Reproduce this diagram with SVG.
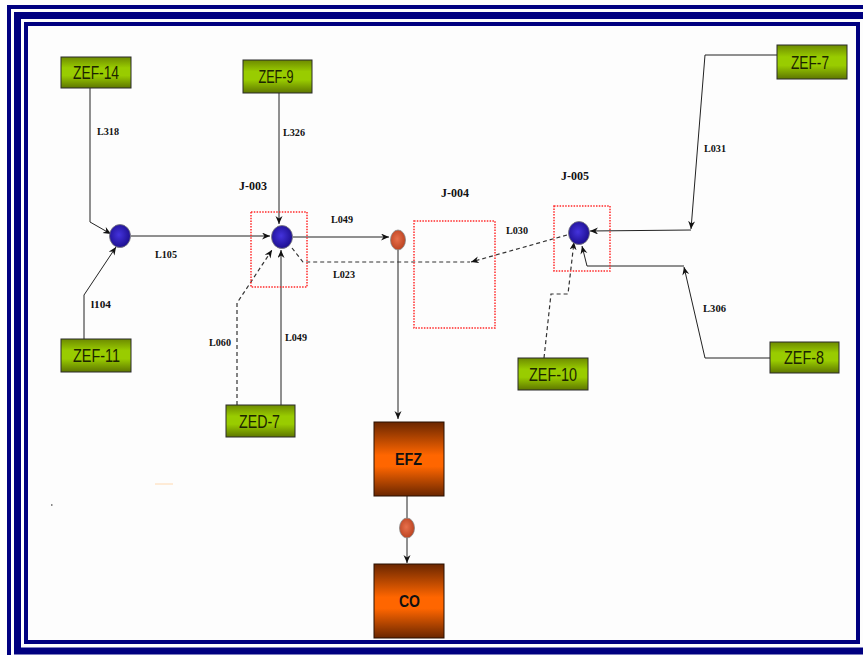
<svg xmlns="http://www.w3.org/2000/svg" width="863" height="655" viewBox="0 0 863 655">
<style>
.frame{fill:none;stroke:#000080}
.src rect{fill:url(#gGreen);stroke:#2b2b2b;stroke-width:1}
.src text{font-family:"Liberation Sans",Arial,sans-serif;font-size:18.5px;fill:#1c2400;text-anchor:middle}
.sink rect{fill:url(#gOrange);stroke:#2b1000;stroke-width:1}
.sink text{font-family:"Liberation Sans",Arial,sans-serif;font-size:16px;font-weight:bold;fill:#111;text-anchor:middle}
.jbox{fill:none;stroke:#ff2a2a;stroke-width:1.5;stroke-dasharray:1.5 1.3}
.lbl{font-family:"Liberation Serif","Times New Roman",serif;font-weight:bold;font-size:10.5px;fill:#111}
.jlbl{font-family:"Liberation Serif","Times New Roman",serif;font-weight:bold;font-size:11.5px;fill:#111}
.ln{fill:none;stroke:#222;stroke-width:1}
.dl{fill:none;stroke:#333;stroke-width:1.2;stroke-dasharray:4 3}
.bn{fill:url(#gBlue);stroke:#777;stroke-width:0.8}
.on{fill:url(#gRed);stroke:#888;stroke-width:0.8}
</style>
<defs>
<linearGradient id="gGreen" x1="0" y1="0" x2="0" y2="1">
<stop offset="0" stop-color="#6d8a00"/>
<stop offset="0.35" stop-color="#99cc00"/>
<stop offset="0.6" stop-color="#99cc00"/>
<stop offset="1" stop-color="#5e7600"/>
</linearGradient>
<linearGradient id="gOrange" x1="0" y1="0" x2="0" y2="1">
<stop offset="0" stop-color="#6a2600"/>
<stop offset="0.45" stop-color="#ff6600"/>
<stop offset="0.6" stop-color="#ff6600"/>
<stop offset="1" stop-color="#6a2600"/>
</linearGradient>
<radialGradient id="gBlue" cx="0.45" cy="0.45" r="0.6">
<stop offset="0" stop-color="#4433dd"/>
<stop offset="1" stop-color="#1a0c8a"/>
</radialGradient>
<radialGradient id="gRed" cx="0.45" cy="0.45" r="0.6">
<stop offset="0" stop-color="#e8704c"/>
<stop offset="1" stop-color="#b8401e"/>
</radialGradient>
<marker id="arr" markerUnits="userSpaceOnUse" markerWidth="10" markerHeight="8" refX="8" refY="3.5" orient="auto">
<path d="M0,0 L8,3.5 L0,7 L2.5,3.5 z" fill="#111"/>
</marker>
</defs>
<rect width="863" height="655" fill="#fdfdfd"/>
<g id="frame">
<rect class="frame" x="9" y="7" width="880" height="700" stroke-width="4"/>
<rect class="frame" x="17.5" y="15.5" width="870" height="635.5" stroke-width="7"/>
<rect class="frame" x="26" y="24" width="832" height="618" stroke-width="4"/>
</g>
<g id="connectors">
<polyline class="ln" points="90,88 90,222 111,234" marker-end="url(#arr)"/>
<polyline class="ln" points="84,339 84,295 116,247" marker-end="url(#arr)"/>
<line class="ln" x1="131" y1="236" x2="270" y2="236" marker-end="url(#arr)"/>
<line class="ln" x1="279" y1="93" x2="279" y2="224" marker-end="url(#arr)"/>
<line class="ln" x1="281" y1="405" x2="281" y2="250" marker-end="url(#arr)"/>
<polyline class="dl" points="237,405 237,303 272,250" marker-end="url(#arr)"/>
<line class="ln" x1="293" y1="237" x2="389" y2="237" marker-end="url(#arr)"/>
<line class="ln" x1="398" y1="250" x2="398" y2="419" marker-end="url(#arr)"/>
<polyline class="dl" points="292,248 303,262 470,262"/>
<line class="dl" x1="567" y1="235" x2="471" y2="262" marker-end="url(#arr)"/>
<polyline class="ln" points="777,55 705,55 691,229" marker-end="url(#arr)"/>
<line class="ln" x1="691" y1="230" x2="590" y2="231" marker-end="url(#arr)"/>
<polyline class="ln" points="770,358 705,358 684,267" marker-end="url(#arr)"/>
<polyline class="ln" points="684,266 587,266 582,246" marker-end="url(#arr)"/>
<polyline class="dl" points="544,358 551,294 568,294 574,242" marker-end="url(#arr)"/>
<line class="ln" x1="407" y1="496" x2="407" y2="518"/>
<line class="ln" x1="407" y1="538" x2="407" y2="563" marker-end="url(#arr)"/>
</g>
<g id="J-003">
<rect class="jbox" x="251" y="212" width="56" height="75"/>
<ellipse class="bn" cx="282" cy="237" rx="10.5" ry="11.5"/>
<text class="jlbl" x="239" y="190" textLength="28" lengthAdjust="spacingAndGlyphs">J-003</text>
</g>
<g id="J-004">
<rect class="jbox" x="414" y="221" width="81" height="107"/>
<text class="jlbl" x="441" y="197" textLength="28" lengthAdjust="spacingAndGlyphs">J-004</text>
</g>
<g id="J-005">
<rect class="jbox" x="554" y="206" width="56" height="65"/>
<ellipse class="bn" cx="579" cy="233" rx="10.5" ry="11.5"/>
<text class="jlbl" x="561" y="180" textLength="28" lengthAdjust="spacingAndGlyphs">J-005</text>
</g>
<g id="J-001">
<ellipse class="bn" cx="120" cy="236" rx="10.5" ry="11.5"/>
</g>
<g id="N-EFZin">
<ellipse class="on" cx="398" cy="240" rx="7.5" ry="10"/>
</g>
<g id="N-EFZout">
<ellipse class="on" cx="407" cy="528" rx="7.5" ry="10"/>
</g>
<g id="ZEF-14" class="src"><rect x="61" y="57" width="70" height="31"/><text x="96" y="78.5" textLength="46" lengthAdjust="spacingAndGlyphs">ZEF-14</text></g>
<g id="ZEF-9" class="src"><rect x="243" y="60" width="69" height="33"/><text x="276" y="82.5" textLength="35" lengthAdjust="spacingAndGlyphs">ZEF-9</text></g>
<g id="ZEF-11" class="src"><rect x="61" y="339" width="70" height="33"/><text x="96.5" y="361.5" textLength="47" lengthAdjust="spacingAndGlyphs">ZEF-11</text></g>
<g id="ZED-7" class="src"><rect x="226" y="405" width="69" height="32"/><text x="259.5" y="428" textLength="41" lengthAdjust="spacingAndGlyphs">ZED-7</text></g>
<g id="ZEF-10" class="src"><rect x="518" y="358" width="70" height="32"/><text x="553" y="381" textLength="48" lengthAdjust="spacingAndGlyphs">ZEF-10</text></g>
<g id="ZEF-8" class="src"><rect x="770" y="342" width="69" height="31"/><text x="804" y="364" textLength="40" lengthAdjust="spacingAndGlyphs">ZEF-8</text></g>
<g id="ZEF-7" class="src"><rect x="777" y="45" width="70" height="34"/><text x="810" y="69" textLength="38" lengthAdjust="spacingAndGlyphs">ZEF-7</text></g>
<g id="EFZ" class="sink"><rect x="374" y="422" width="70" height="74"/><text x="408.5" y="465" textLength="27" lengthAdjust="spacingAndGlyphs">EFZ</text></g>
<g id="CO" class="sink"><rect x="374" y="564" width="70" height="74"/><text x="409.5" y="607" textLength="21" lengthAdjust="spacingAndGlyphs">CO</text></g>
<g id="labels">
<text class="lbl" x="97" y="135" textLength="22" lengthAdjust="spacingAndGlyphs">L318</text>
<text class="lbl" x="283" y="136" textLength="22" lengthAdjust="spacingAndGlyphs">L326</text>
<text class="lbl" x="155" y="258" textLength="22" lengthAdjust="spacingAndGlyphs">L105</text>
<text class="lbl" x="91" y="308" textLength="20" lengthAdjust="spacingAndGlyphs">l104</text>
<text class="lbl" x="209" y="346" textLength="22" lengthAdjust="spacingAndGlyphs">L060</text>
<text class="lbl" x="285" y="341" textLength="22" lengthAdjust="spacingAndGlyphs">L049</text>
<text class="lbl" x="331" y="223" textLength="22" lengthAdjust="spacingAndGlyphs">L049</text>
<text class="lbl" x="333" y="278" textLength="22" lengthAdjust="spacingAndGlyphs">L023</text>
<text class="lbl" x="506" y="234" textLength="22" lengthAdjust="spacingAndGlyphs">L030</text>
<text class="lbl" x="704" y="152" textLength="22" lengthAdjust="spacingAndGlyphs">L031</text>
<text class="lbl" x="703" y="312" textLength="23" lengthAdjust="spacingAndGlyphs">L306</text>
</g>
<line x1="155" y1="484" x2="173" y2="484" stroke="#ffd9b0" stroke-width="1"/>
<rect x="51" y="504" width="1.5" height="2" fill="#888"/>
</svg>
